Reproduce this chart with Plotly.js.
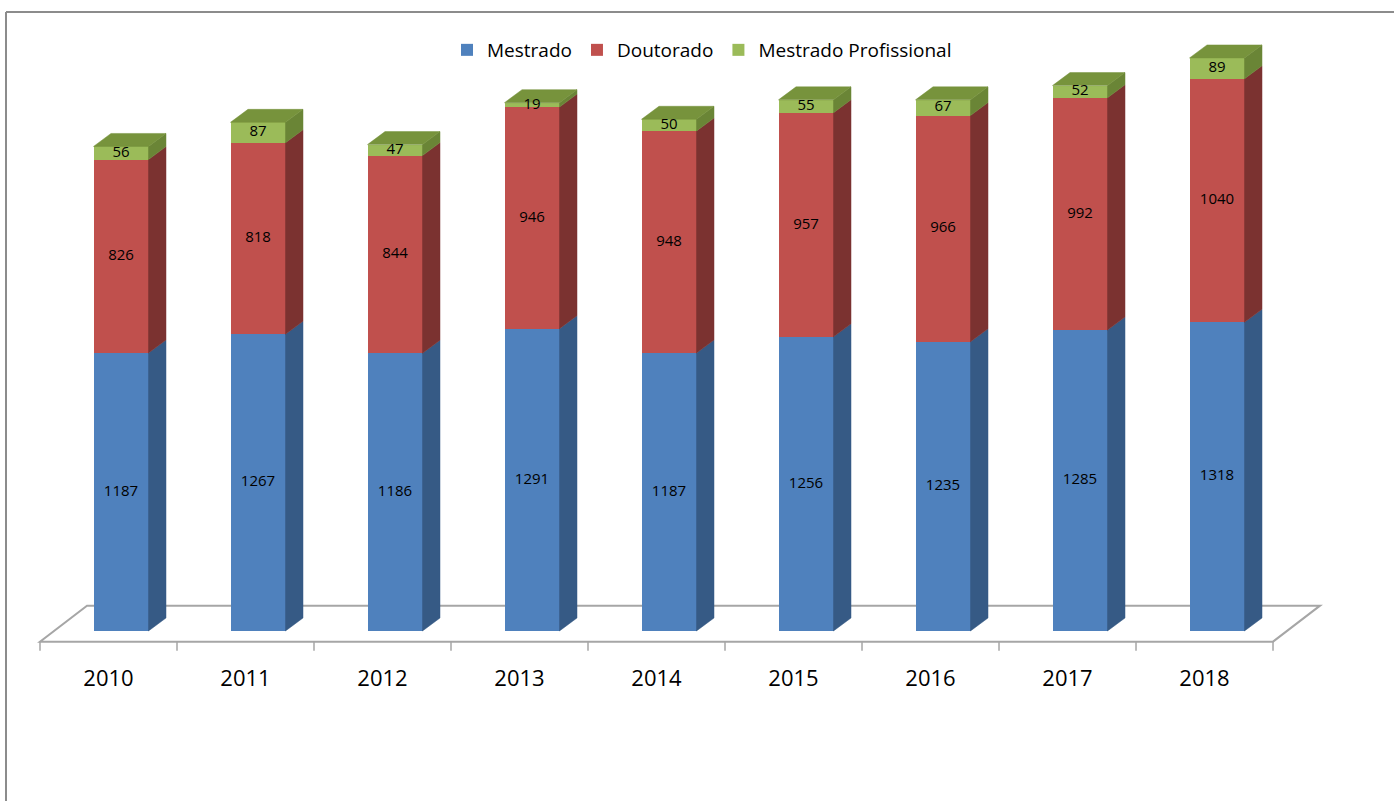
<!DOCTYPE html>
<html>
<head>
<meta charset="utf-8">
<script src="https://cdn.plot.ly/plotly-3.0.1.min.js"></script>
<style>html,body{margin:0;padding:0;background:#fff;}#chart{width:1394px;height:801px;}</style>
</head>
<body>
<div id="chart"></div>
<script>
// ---- data ----
const years = ['2010','2011','2012','2013','2014','2015','2016','2017','2018'];
const mestrado = [1187,1267,1186,1291,1187,1256,1235,1285,1318];
const doutorado = [826,818,844,946,948,957,966,992,1040];
const profissional = [56,87,47,19,50,55,67,52,89];
const seriesNames = ['Mestrado','Doutorado','Mestrado Profissional'];

// ---- styling ----
const frontColors = ['#4F81BD','#C0504D','#9BBB59'];
const sideColors  = ['#365A85','#7B3230','#6A8536'];
const topColor = '#77933C';
const FONT = 'Open Sans, Lato, sans-serif';

// ---- geometry (pixels) ----
const W = 1394, H = 801;
const M = {l:30, r:64, t:20, b:141};
const plotW = W - M.l - M.r, plotH = H - M.t - M.b;
const xRange = [-0.573, 8.916];
const yRange = [-124, 2609];
const sx = plotW / (xRange[1]-xRange[0]);
const sy = plotH / (yRange[1]-yRange[0]);
const dxU = p => p / sx;
const dyU = p => p / sy;

const BAR_W = dxU(55), BAR_OFF = dxU(-15);
const DEP_X = dxU(17.5), DEP_Y = dyU(13);
const FLOOR_DX = dxU(47), FLOOR_FRONT = dyU(-10.7), FLOOR_BACK = dyU(25.3);

const idx = years.map((_, i) => i);
const seriesVals = [mestrado, doutorado, profissional];

const traces = [];
// front faces
seriesVals.forEach((vals, s) => {
  traces.push({
    type:'bar', name: seriesNames[s], x: idx, y: vals,
    width: BAR_W, offset: BAR_OFF,
    marker:{color: frontColors[s], line:{width:0}},
    hoverinfo:'name+y'
  });
});

// side and top faces
const bases = idx.map(() => 0);
const labelX = [], labelY = [], labelT = [];
seriesVals.forEach((vals, s) => {
  const px = [], py = [];
  vals.forEach((v, i) => {
    const b = bases[i], t = b + v;
    const xl = i + BAR_OFF, xr = xl + BAR_W;
    px.push(xr, xr+DEP_X, xr+DEP_X, xr, xr, null);
    py.push(b, b+DEP_Y, t+DEP_Y, t, b, null);
    labelX.push(xl + BAR_W/2); labelY.push(b + v/2); labelT.push(String(v));
    bases[i] = t;
  });
  traces.push({type:'scatter', mode:'lines', x:px, y:py, fill:'toself',
    fillcolor: sideColors[s], line:{width:0.5, color: sideColors[s]},
    showlegend:false, hoverinfo:'skip'});
});
{
  const px = [], py = [];
  bases.forEach((t, i) => {
    const xl = i + BAR_OFF, xr = xl + BAR_W;
    px.push(xl, xr, xr+DEP_X, xl+DEP_X, xl, null);
    py.push(t, t, t+DEP_Y, t+DEP_Y, t, null);
  });
  traces.push({type:'scatter', mode:'lines', x:px, y:py, fill:'toself',
    fillcolor: topColor, line:{width:0.5, color: topColor},
    showlegend:false, hoverinfo:'skip'});
}
// data labels
traces.push({type:'scatter', mode:'text', x:labelX, y:labelY, text:labelT,
  textposition:'middle center', textfont:{family:FONT, size:15, color:'#000'},
  showlegend:false, hoverinfo:'skip'});

// floor + ticks
const n = years.length;
const x0 = -0.5, x1 = n - 0.5;
const shapes = [{
  type:'path', xref:'x', yref:'y', layer:'below',
  path:`M${x0},${FLOOR_FRONT} L${x1},${FLOOR_FRONT} L${x1+FLOOR_DX},${FLOOR_BACK} L${x0+FLOOR_DX},${FLOOR_BACK} Z`,
  line:{color:'#A6A6A6', width:2}, fillcolor:'rgba(0,0,0,0)'
}];
for (let k = 0; k <= n; k++) {
  shapes.push({type:'line', xref:'x', yref:'y', layer:'below',
    x0: x0 + k, x1: x0 + k, y0: FLOOR_FRONT, y1: FLOOR_FRONT - dyU(9),
    line:{color:'#A6A6A6', width:1.5}});
}
// outer frame (top and left edges)
const pX = p => (p - M.l) / plotW;
const pY = p => (H - M.b - p) / plotH;
shapes.push({type:'line', xref:'paper', yref:'paper', x0:pX(6), x1:pX(1394), y0:pY(12), y1:pY(12), line:{color:'#8C8C8C', width:2}});
shapes.push({type:'line', xref:'paper', yref:'paper', x0:pX(6), x1:pX(6), y0:pY(12), y1:pY(801), line:{color:'#8C8C8C', width:2}});

const layout = {
  width: W, height: H, margin: M,
  paper_bgcolor:'#fff', plot_bgcolor:'rgba(0,0,0,0)',
  barmode:'stack', showlegend:true,
  font:{family:FONT, color:'#000'},
  legend:{orientation:'h', x: pX(702), xanchor:'center', y: pY(50), yanchor:'middle',
    traceorder:'normal', font:{family:FONT, size:19, color:'#000'}, bgcolor:'rgba(0,0,0,0)'},
  xaxis:{range:xRange, tickvals: idx, ticktext: years, ticks:'', showgrid:false, zeroline:false,
    showline:false, ticklabelstandoff:3, tickfont:{family:FONT, size:22, color:'#000'}, fixedrange:true},
  yaxis:{range:yRange, showticklabels:false, showgrid:false, zeroline:false, showline:false, ticks:'', fixedrange:true},
  shapes: shapes
};
Plotly.newPlot('chart', traces, layout, {displayModeBar:false, staticPlot:true});
</script>
</body>
</html>
